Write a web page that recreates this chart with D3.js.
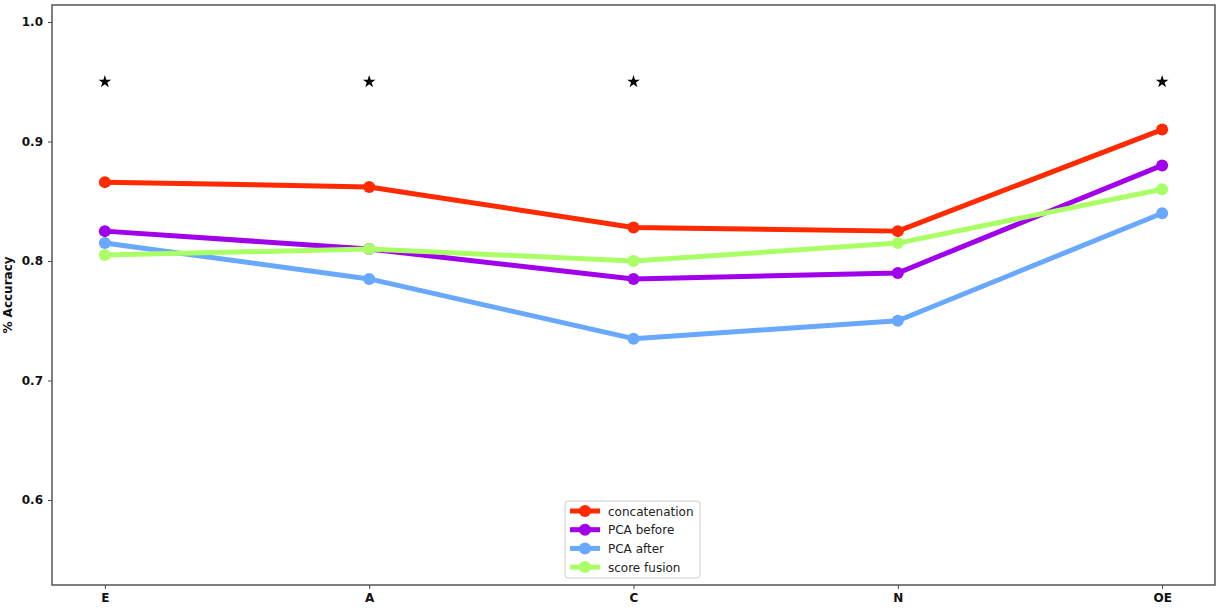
<!DOCTYPE html>
<html><head><meta charset="utf-8">
<script src="https://cdn.jsdelivr.net/npm/d3@7"></script>
<style>body{margin:0;background:#fff}svg{display:block}</style>
</head><body>
<svg id="c" width="1221" height="611"></svg>
<script>
const categories = ["E","A","C","N","OE"];
const seriesNames = ["concatenation","PCA before","PCA after","score fusion"];
const concatenation = [0.866,0.862,0.828,0.825,0.910];
const pcaBefore = [0.825,0.810,0.785,0.790,0.880];
const pcaAfter = [0.815,0.785,0.735,0.750,0.840];
const scoreFusion = [0.805,0.810,0.800,0.815,0.860];
const starCategories = ["E","A","C","OE"];
const starValue = 0.95;
const yTicks = [0.6,0.7,0.8,0.9,1.0];
const colors = ["#ff2a00","#a100ea","#68a8ff","#aaff66"];

const series = [concatenation,pcaBefore,pcaAfter,scoreFusion];
const svg = d3.select("#c");
const L=52,R=1215,T=5,B=585;
const x = d3.scaleLinear().domain([-0.2,4.2]).range([L,R]);
const y = d3.scaleLinear().domain([0.6,1.0]).range([500,22]);
const font = "DejaVu Sans";

const yAxis = svg.append("g").attr("transform",`translate(${L},0)`)
  .call(d3.axisLeft(y).tickValues(yTicks).tickFormat(d3.format(".1f")).tickSize(4).tickPadding(5));
const xAxis = svg.append("g").attr("transform",`translate(0,${B})`)
  .call(d3.axisBottom(x).tickValues(d3.range(categories.length)).tickFormat(i=>categories[i]).tickSize(4).tickPadding(4));
[yAxis,xAxis].forEach(g=>{
  g.select(".domain").remove();
  g.selectAll("line").attr("stroke","#444").attr("stroke-width",1);
  g.selectAll("text").attr("font-family",font).attr("font-weight","bold").attr("font-size",12).attr("fill","#111");
});
svg.append("rect").attr("x",L).attr("y",T).attr("width",R-L).attr("height",B-T)
  .attr("fill","none").attr("stroke","#555").attr("stroke-width",1.5);

svg.append("text").attr("transform",`translate(12,${(T+B)/2}) rotate(-90)`)
  .attr("text-anchor","middle").attr("font-family",font).attr("font-weight","bold")
  .attr("font-size",12).attr("fill","#111").text("% Accuracy");

const line = d3.line().x((d,i)=>x(i)).y(d=>y(d));
series.forEach((s,k)=>{
  svg.append("path").datum(s).attr("d",line).attr("fill","none")
    .attr("stroke",colors[k]).attr("stroke-width",5).attr("stroke-linejoin","round");
  svg.selectAll(null).data(s).enter().append("circle")
    .attr("cx",(d,i)=>x(i)).attr("cy",d=>y(d)).attr("r",6).attr("fill",colors[k]);
});

const star = d3.symbol().type(d3.symbolStar).size(50);
svg.selectAll(null).data(starCategories).enter().append("path")
  .attr("d",star).attr("transform",d=>`translate(${x(categories.indexOf(d))},${y(starValue)})`)
  .attr("fill","#000");

const lg = svg.append("g");
lg.append("rect").attr("x",565).attr("y",501).attr("width",135).attr("height",77).attr("rx",3)
  .attr("fill","#fff").attr("stroke","#ccc").attr("stroke-width",1);
seriesNames.forEach((n,k)=>{
  const yy = 511 + k*18.7;
  lg.append("line").attr("x1",570).attr("x2",600).attr("y1",yy).attr("y2",yy)
    .attr("stroke",colors[k]).attr("stroke-width",5);
  lg.append("circle").attr("cx",585).attr("cy",yy).attr("r",6).attr("fill",colors[k]);
  lg.append("text").attr("x",608).attr("y",yy+4.5).attr("font-family",font)
    .attr("font-size",12).attr("fill","#222").text(n);
});
</script>
</body></html>
